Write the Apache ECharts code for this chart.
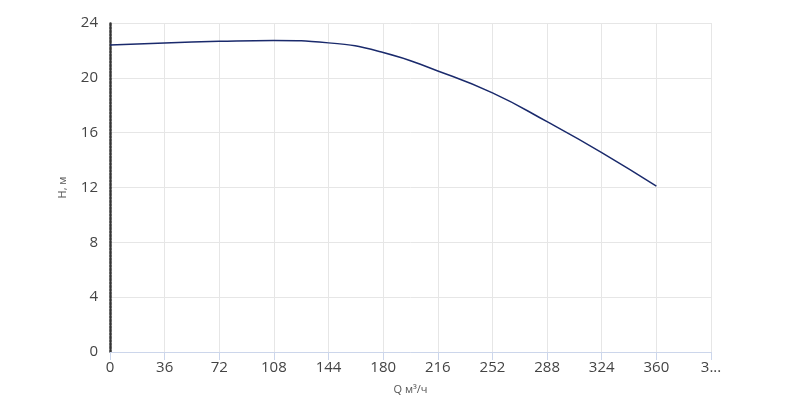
<!DOCTYPE html><html><head><meta charset="utf-8"><script src="https://cdn.jsdelivr.net/npm/echarts@6/dist/echarts.min.js"></script></head><body style="margin:0"><div id="c" style="width:800px;height:408px"></div><script>
const qValues=[0,36,72,108,144,180,216,252,288,324,360];
const hValues=[22.4,22.55,22.66,22.72,22.55,21.85,20.5,18.9,16.8,14.55,12.1];
const chart=echarts.init(document.getElementById('c'));
chart.setOption({
 animation:false,
 grid:{left:110,right:89,top:23,bottom:56},
 xAxis:{type:'value',min:0,max:396,interval:36,name:'Q м³/ч',nameLocation:'middle',nameGap:32,
  nameTextStyle:{fontSize:11,color:'#555',fontFamily:'Open Sans'},
  axisLine:{lineStyle:{color:'#ccd6eb'}},axisTick:{show:true,length:8,lineStyle:{color:'#ccd6eb'}},
  axisLabel:{fontSize:15,color:'#444',fontFamily:'Open Sans',showMaxLabel:true,formatter:v=>v===396?'3...':String(v)},
  splitLine:{lineStyle:{color:'#e6e6e6'}}},
 yAxis:{type:'value',min:0,max:24,interval:4,name:'H, м',nameLocation:'middle',nameGap:42,
  nameTextStyle:{fontSize:11,color:'#555',fontFamily:'Open Sans'},
  axisLine:{show:true,lineStyle:{color:'#333',width:2.5,type:[2,1.4]}},axisTick:{show:false},
  axisLabel:{fontSize:15,color:'#444',fontFamily:'Open Sans',margin:12},
  splitLine:{lineStyle:{color:'#e6e6e6'}}},
 series:[{type:'line',data:qValues.map((q,i)=>[q,hValues[i]]),smooth:0.5,showSymbol:false,
  lineStyle:{color:'#1a2a6c',width:1.5}}]
});
</script></body></html>
